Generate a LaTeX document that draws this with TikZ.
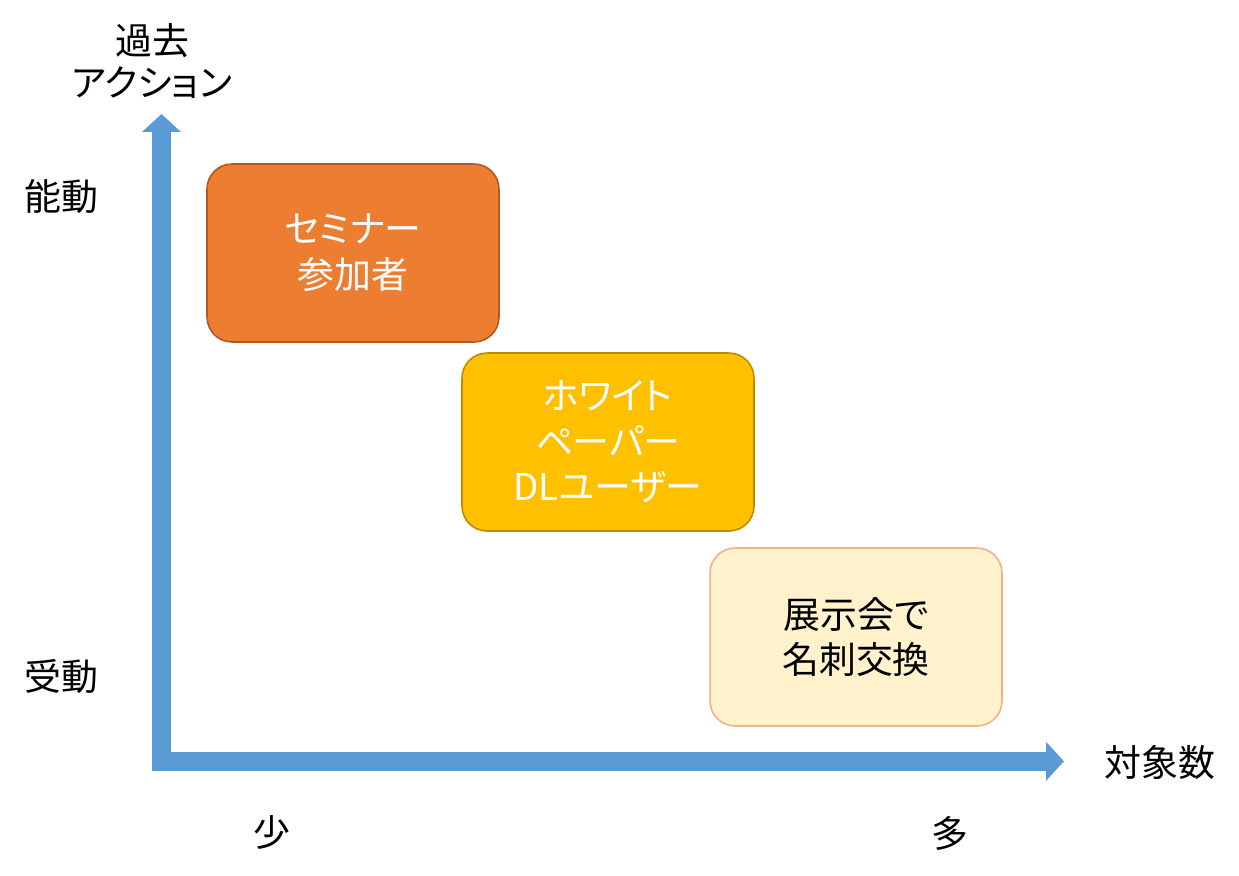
\documentclass[tikz,border=0pt]{standalone}
\usepackage{fontspec}
\setmainfont{Noto Sans CJK JP}[RawFeature=+palt]
\usetikzlibrary{positioning, arrows.meta}
\usepackage{xcolor}

\definecolor{axisblue}{HTML}{5B9BD5}
\definecolor{seminarfill}{HTML}{ED7D31}
\definecolor{seminardraw}{HTML}{AE5A21}
\definecolor{paperfill}{HTML}{FFC000}
\definecolor{paperdraw}{HTML}{BC8C00}
\definecolor{expofill}{HTML}{FFF2CC}
\definecolor{expodraw}{HTML}{F4B183}

\begin{document}
\begin{tikzpicture}[
    x=0.02cm, y=-0.02cm,
    group/.style={draw, line width=0.9pt, rounded corners=0.5cm, minimum width=5.84cm, minimum height=3.56cm, align=center, font=\fontsize{21pt}{26pt}\selectfont},
    lbl/.style={align=center, font=\fontsize{21pt}{24pt}\selectfont},
    axis/.style={axisblue, line width=0.38cm, {Triangle[width=0.76cm, length=0.36cm]}-{Triangle[width=0.76cm, length=0.36cm]}}
]
    \useasboundingbox (0,0) rectangle (1239,875);

    % axes
    \coordinate (ytop) at (161.5,114);
    \coordinate (xend) at (1064,761.3);
    \draw[axis] (ytop) |- (xend);

    % axis labels
    \node[lbl] (past) at (152,61) {過去\\アクション};
    \node[lbl] (active) at (61,197) {能動};
    \node[lbl] (passive) at (61,676) {受動};
    \node[lbl] (count) at (1160,762) {対象数};
    \node[lbl] (few) at (272,833) {少};
    \node[lbl] (many) at (950,833) {多};

    % groups
    \node[group, fill=seminarfill, draw=seminardraw, text=white] (seminar) at (353,253) {セミナー\\参加者};
    \node[group, fill=paperfill, draw=paperdraw, text=white] (paper) at (608,442) {ホワイト\\ペーパー\\DLユーザー};
    \node[group, fill=expofill, draw=expodraw] (expo) at (856,637) {展示会で\\名刺交換};
\end{tikzpicture}
\end{document}
